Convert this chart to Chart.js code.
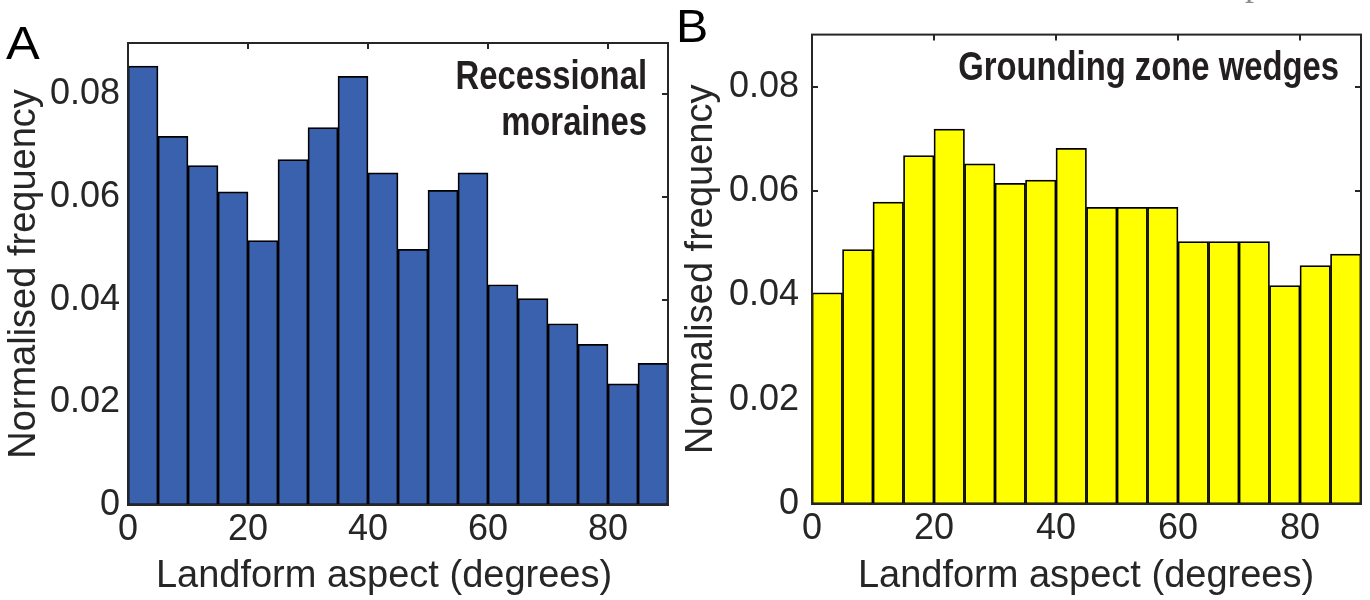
<!DOCTYPE html>
<html><head><meta charset="utf-8">
<script src="https://cdn.jsdelivr.net/npm/chart.js@4.4.1/dist/chart.umd.min.js"></script>
<style>
html,body{margin:0;padding:0;background:#fff;width:1370px;height:600px;overflow:hidden;}
.wrap{position:absolute;top:0;height:600px;}
#wa{left:0;width:675px;} #wb{left:675px;width:695px;}
</style></head><body>
<div class="wrap" id="wa"><canvas id="ca" width="675" height="600"></canvas></div>
<div class="wrap" id="wb"><canvas id="cb" width="695" height="600"></canvas></div>
<script>
// ---- data ----
const binCenters = [2.5, 7.5, 12.5, 17.5, 22.5, 27.5, 32.5, 37.5, 42.5, 47.5, 52.5, 57.5, 62.5, 67.5, 72.5, 77.5, 82.5, 87.5];
const moraineFreq = [0.0855, 0.0718, 0.0661, 0.0610, 0.0515, 0.0673, 0.0735, 0.0835, 0.0647, 0.0498, 0.0613, 0.0647, 0.0429, 0.0402, 0.0353, 0.0313, 0.0236, 0.0276];
const gzwFreq = [0.0405, 0.0488, 0.0579, 0.0668, 0.0719, 0.0652, 0.0615, 0.0621, 0.0682, 0.0569, 0.0569, 0.0569, 0.0503, 0.0503, 0.0503, 0.0419, 0.0457, 0.0479];
const xTickValues = [0, 20, 40, 60, 80];
const xTickLabels = ['0', '20', '40', '60', '80'];
const yTickValues = [0, 0.02, 0.04, 0.06, 0.08];
const yTickLabels = ['0', '0.02', '0.04', '0.06', '0.08'];
const xAxisTitle = 'Landform aspect (degrees)';
const yAxisTitle = 'Normalised frequency';
const panelLetters = ['A', 'B'];
const moraineNote = ['Recessional', 'moraines'];
const gzwNote = ['Grounding zone wedges'];

// ---- style ----
const TXT = '#262626';
const SANS = "'Liberation Sans', Arial, Helvetica, sans-serif";

const framePlugin = {
  id: 'frame',
  beforeDatasetsDraw(chart) {
    const {ctx, chartArea: a, scales: {x, y}} = chart;
    const L = 6;
    ctx.save();
    ctx.strokeStyle = TXT; ctx.lineWidth = 2;
    ctx.beginPath();
    xTickValues.forEach(v => {
      const px = Math.round(x.getPixelForValue(v));
      ctx.moveTo(px, a.bottom); ctx.lineTo(px, a.bottom - L);
      ctx.moveTo(px, a.top); ctx.lineTo(px, a.top + L);
    });
    yTickValues.forEach(v => {
      const py = Math.round(y.getPixelForValue(v));
      ctx.moveTo(a.left, py); ctx.lineTo(a.left + L, py);
      ctx.moveTo(a.right, py); ctx.lineTo(a.right - L, py);
    });
    ctx.stroke();
    ctx.restore();
  },
  afterDatasetsDraw(chart) {
    const {ctx, chartArea: a} = chart;
    ctx.save();
    ctx.strokeStyle = TXT; ctx.lineWidth = 2;
    ctx.strokeRect(a.left, a.top, a.right - a.left, a.bottom - a.top);
    ctx.restore();
  },
  afterDraw(chart, args, opts) {
    const {ctx} = chart;
    (opts.items || []).forEach(it => {
      ctx.save();
      ctx.font = it.font;
      ctx.fillStyle = it.color || TXT;
      ctx.textAlign = it.align || 'left';
      ctx.textBaseline = it.baseline || 'alphabetic';
      const sx = it.sx || 1;
      ctx.translate(it.x, it.y);
      ctx.scale(sx, 1);
      ctx.fillText(it.text, 0, 0);
      ctx.restore();
    });
  }
};

function makeChart(id, values, color, lay, items) {
  return new Chart(document.getElementById(id), {
    type: 'bar',
    data: {
      datasets: [{
        data: binCenters.map((c, i) => ({x: c, y: values[i]})),
        backgroundColor: color,
        borderColor: '#000',
        borderWidth: 1.75,
        borderSkipped: false,
        barPercentage: 1,
        categoryPercentage: 1
      }]
    },
    options: {
      responsive: false,
      animation: false,
      devicePixelRatio: 1,
      layout: {padding: {left: 0, right: lay.right, top: lay.top, bottom: 0}},
      plugins: {legend: {display: false}, tooltip: {enabled: false}, frame: {items}},
      scales: {
        x: {
          type: 'linear', min: 0, max: 90, offset: false,
          grid: {display: false, drawTicks: false}, border: {display: false},
          afterBuildTicks: s => { s.ticks = xTickValues.map(v => ({value: v})); },
          afterFit: s => { s.height = lay.xh; },
          ticks: {autoSkip: false, maxRotation: 0, padding: 3, color: TXT,
            font: {family: SANS, size: 36},
            callback: (v) => xTickLabels[xTickValues.indexOf(v)]},
          title: {display: false}
        },
        y: {
          min: 0, max: 0.09,
          grid: {display: false, drawTicks: false}, border: {display: false},
          afterBuildTicks: s => { s.ticks = yTickValues.map(v => ({value: v})); },
          afterFit: s => { s.width = lay.yw; },
          ticks: {autoSkip: false, padding: lay.tpad, color: TXT,
            font: {family: SANS, size: 36},
            callback: (v) => yTickLabels[yTickValues.indexOf(v)]},
          title: {display: true, text: yAxisTitle, color: TXT, padding: {top: lay.ytp, bottom: 0},
            font: {family: SANS, size: 38, lineHeight: 1}}
        }
      }
    },
    plugins: [framePlugin]
  });
}

const noteFont = 'bold 40px ' + SANS;
makeChart('ca', moraineFreq, '#3a61ad', {right: 7, top: 43, xh: 95, yw: 128, tpad: 8, ytp: 6}, [
  {text: panelLetters[0], x: 6, y: 59, font: '46px ' + SANS, color: '#000', sx: 1.1},
  {text: xAxisTitle, x: 384, y: 577, font: '38px ' + SANS, align: 'center', baseline: 'middle'},
  {text: moraineNote[0], x: 647, y: 89, font: noteFont, align: 'right', color: '#231f20', sx: 0.82},
  {text: moraineNote[1], x: 647, y: 135, font: noteFont, align: 'right', color: '#231f20', sx: 0.82}
]);
makeChart('cb', gzwFreq, '#ffff00', {right: 9, top: 32, xh: 96, yw: 137, tpad: 13, ytp: 8}, [
  {text: panelLetters[1], x: 1, y: 42, font: '46px ' + SANS, color: '#000', sx: 1.05},
  {text: xAxisTitle, x: 411, y: 577, font: '38px ' + SANS, align: 'center', baseline: 'middle'},
  {text: gzwNote[0], x: 664, y: 80, font: noteFont, align: 'right', color: '#231f20', sx: 0.82},
  {text: 'p', x: 579, y: -5, font: "36px 'Liberation Serif', serif", align: 'center', color: '#8c8c8c'}
]);
</script>
</body></html>
